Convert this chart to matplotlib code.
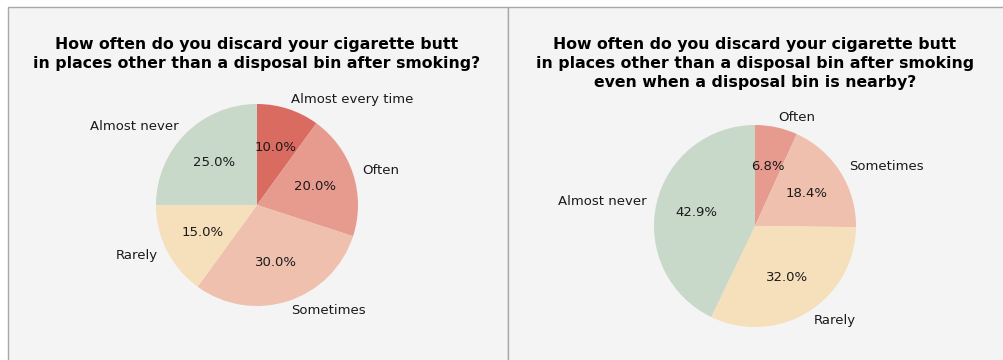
import matplotlib
matplotlib.use('Agg')
import matplotlib.pyplot as plt
from matplotlib.patches import Rectangle

# ── DATA ──────────────────────────────────────────────────────────────────────
left_labels = ["Almost every time", "Often", "Sometimes", "Rarely", "Almost never"]
left_values = [10.0, 20.0, 30.0, 15.0, 25.0]

right_labels = ["Often", "Sometimes", "Rarely", "Almost never"]
right_values = [6.8, 18.4, 32.0, 42.9]

left_title = ("How often do you discard your cigarette butt\n"
              "in places other than a disposal bin after smoking?")
right_title = ("How often do you discard your cigarette butt\n"
               "in places other than a disposal bin after smoking\n"
               "even when a disposal bin is nearby?")

COLORS = {
    "Almost every time": "#d96b60",
    "Often": "#e79a8e",
    "Sometimes": "#efc0ad",
    "Rarely": "#f6dfbb",
    "Almost never": "#c8d8c9",
}

W, H = 1004, 360
BG = "#f4f4f4"
EDGE = "#a8a8a8"

fig = plt.figure(figsize=(W / 100, H / 100), dpi=100)
fig.patch.set_facecolor("white")

# panel backgrounds with borders (top at y=7, left at x=8, split at x=508)
for x0, x1 in [(8, 508), (508, 1010)]:
    fig.patches.append(Rectangle((x0 / W, -0.05), (x1 - x0) / W, (H - 7) / H + 0.05,
                                 transform=fig.transFigure, facecolor=BG,
                                 edgecolor=EDGE, linewidth=1.0, zorder=-5))


def draw_pie(cx, cy, r, labels, values, title, title_x):
    ax = fig.add_axes([(cx - r) / W, (H - cy - r) / H, 2 * r / W, 2 * r / H])
    ax.set_facecolor(BG)
    wedges, texts, autotexts = ax.pie(
        values, labels=labels, colors=[COLORS[l] for l in labels],
        autopct='%1.1f%%', startangle=90, counterclock=False,
        textprops={'fontsize': 9.5, 'color': '#1a1a1a'},
    )
    ax.set_xlim(-1, 1)
    ax.set_ylim(-1, 1)
    ax.axis('off')
    fig.text(title_x / W, 1 - 37 / H, title, ha='center', va='top',
             fontsize=11.3, fontweight='bold', linespacing=1.32, color='black')


draw_pie(257, 205, 101, left_labels, left_values, left_title, 257)
draw_pie(755, 226, 101, right_labels, right_values, right_title, 755)

plt.savefig("out.png", dpi=100, facecolor=fig.get_facecolor())
